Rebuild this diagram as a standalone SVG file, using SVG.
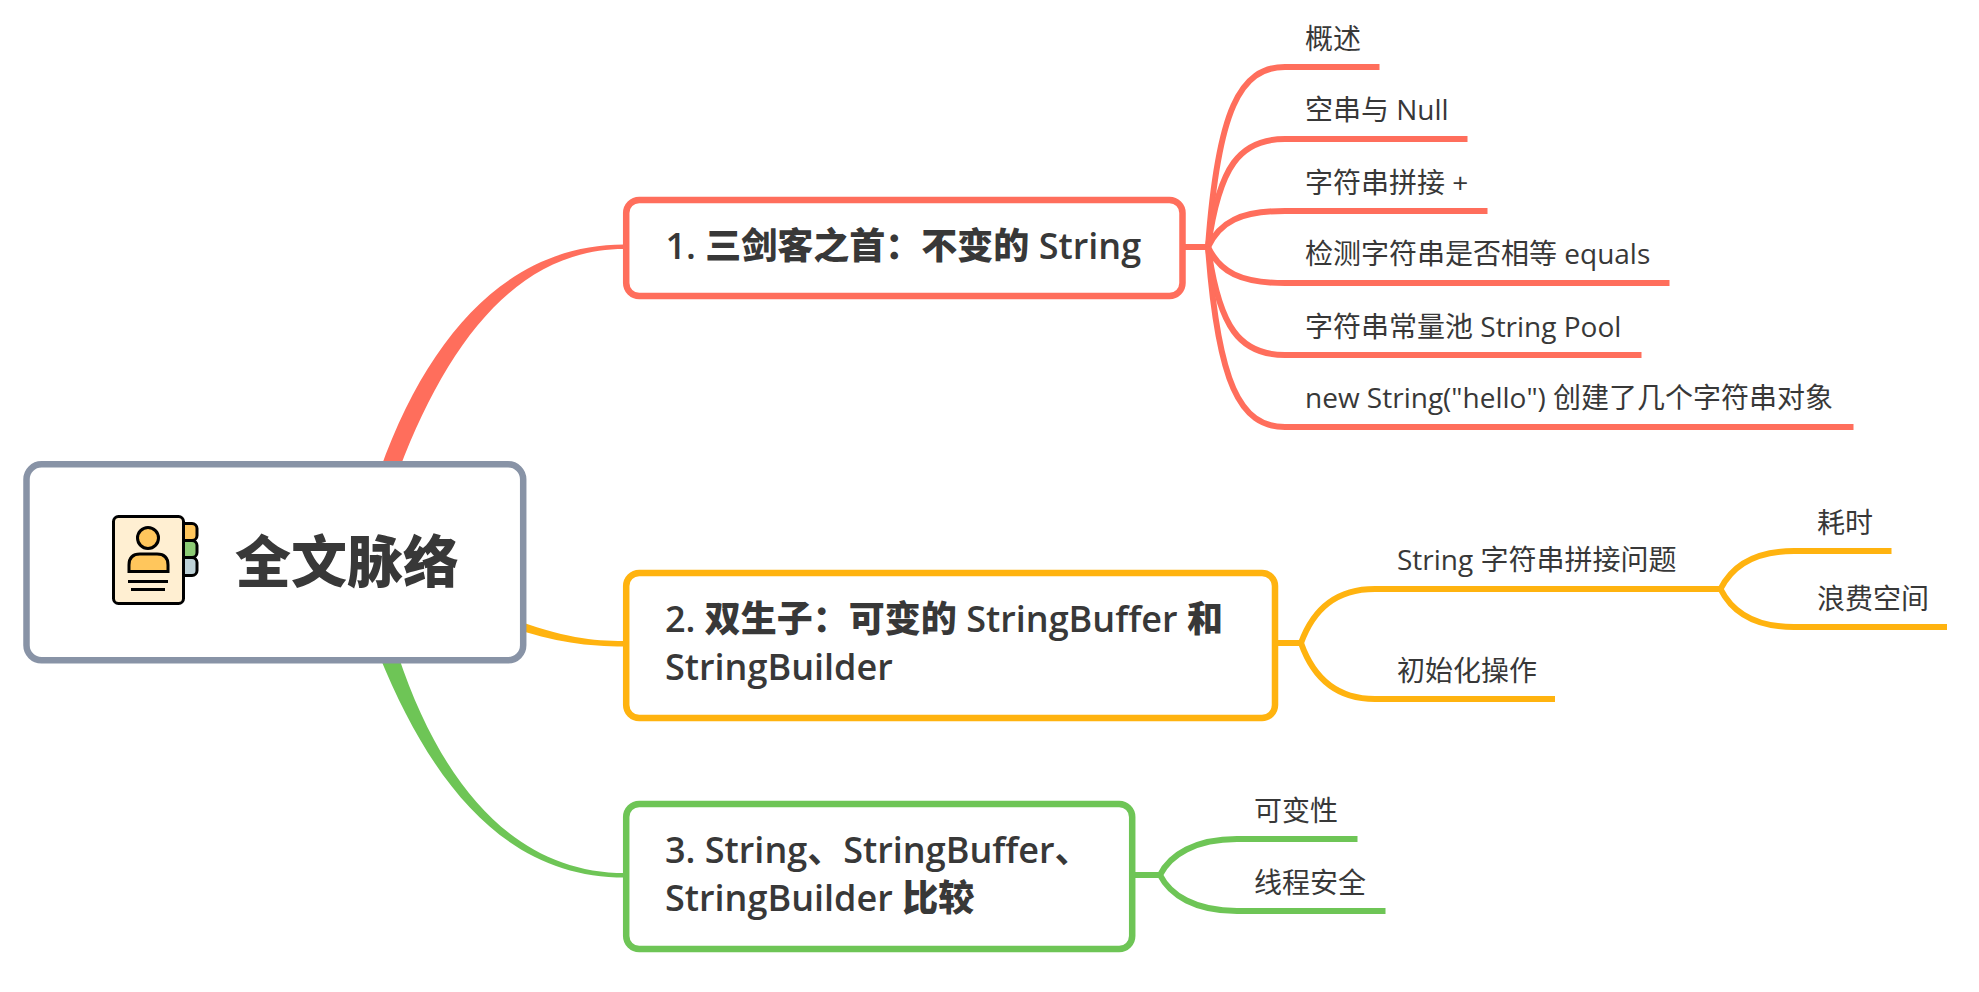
<svg xmlns="http://www.w3.org/2000/svg" width="1979" height="992" viewBox="0 0 1979 992">
<style>
text{font-family:"Open Sans","Noto Sans CJK SC",sans-serif;fill:#383838}
.t{font-size:28px}
.m{font-size:36px;font-weight:600}
.r{font-size:56px;font-weight:900}
.b{font-weight:900}
.box{fill:#fff;stroke-width:6.500}
.l{fill:none;stroke-width:6}
.red{stroke:#ff6e5c}.yel{stroke:#ffb30f}.grn{stroke:#6ec556}
.ic{stroke:#000;stroke-width:3}
</style>
<rect width="1979" height="992" fill="#fff"/>
<g id="connectors">
<path d="M380,470C430,330 512,244.500 624,244.500L624,249C520,249 449,338 399,470Z" fill="#ff6e5c"/>
<path d="M495,612C560,638 590,641 624,641L624,646.500C585,646.500 550,642 495,622Z" fill="#ffb30f"/>
<path d="M379,655C436,795 512,877.500 625,877.500L625,873C518,873 443,790 398,655Z" fill="#6ec556"/>
<g class="l red">
<path d="M1185,247H1208"/>
<path d="M1208,247C1218,110 1240,67 1285,67H1379.500"/>
<path d="M1208,247C1219,166 1240,139 1285,139H1467.500"/>
<path d="M1208,247C1220,222 1240,211 1285,211H1487.500"/>
<path d="M1208,247C1220,272 1240,283 1285,283H1669.500"/>
<path d="M1208,247C1219,328 1240,355 1285,355H1641.500"/>
<path d="M1208,247C1218,384 1240,427 1285,427H1853.500"/>
</g>
<g class="l yel">
<path d="M1277,643H1301"/>
<path d="M1301,643C1313,610 1335,589 1375,589H1720.500"/>
<path d="M1301,643C1313,677 1335,699 1375,699H1555"/>
<path d="M1720.500,589C1732,566 1755,551 1794,551H1891.500"/>
<path d="M1720.500,589C1732,612 1755,627 1794,627H1947"/>
</g>
<g class="l grn">
<path d="M1134,875H1160"/>
<path d="M1160,875C1170,855 1195,839 1237,839H1357.500"/>
<path d="M1160,875C1170,895 1195,911 1237,911H1385.500"/>
</g>
</g>
<g id="root">
<rect class="box" x="26.500" y="464.300" width="496.700" height="196" rx="15" stroke="#8893a6"/>
<g class="ic">
<rect x="176" y="523.500" width="21" height="17" rx="5" fill="#ffc65c"/>
<rect x="176" y="540.500" width="21" height="17" rx="5" fill="#8ccb74"/>
<rect x="176" y="557.500" width="21" height="18" rx="5" fill="#bdd1d6"/>
<rect x="113.500" y="516.500" width="70" height="87" rx="5" fill="#ffefd2"/>
<ellipse cx="148" cy="538" rx="10.500" ry="10.500" fill="#ffc65c"/>
<path d="M129,571.500V565Q129,554 140,554H157Q168,554 168,565V571.500Z" fill="#ffc65c"/>
<path d="M128,581.500H168M131,589.500H165" fill="none"/>
</g>
<text class="r" x="235" y="582">全文脉络</text>
</g>
<g id="node1">
<rect class="box red" x="626.200" y="200" width="556.300" height="96" rx="13"/>
<text class="m" x="665.500" y="259">1. <tspan class="b">三剑客之首：不变的</tspan> String</text>
</g>
<g id="node2">
<rect class="box yel" x="626.200" y="573" width="648.800" height="145" rx="13"/>
<text class="m" x="665" y="631.500">2. <tspan class="b">双生子：可变的</tspan> StringBuffer <tspan class="b">和</tspan></text>
<text class="m" x="665" y="680">StringBuilder</text>
</g>
<g id="node3">
<rect class="box grn" x="626.200" y="804" width="506" height="145" rx="13"/>
<text class="m" x="665" y="863">3. String、StringBuffer、</text>
<text class="m" x="665" y="911">StringBuilder <tspan class="b">比较</tspan></text>
</g>
<g id="n1a"><text class="t" x="1305" y="49">概述</text></g>
<g id="n1b"><text class="t" x="1305" y="120">空串与 Null</text></g>
<g id="n1c"><text class="t" x="1305" y="193">字符串拼接 +</text></g>
<g id="n1d"><text class="t" x="1305" y="264">检测字符串是否相等 equals</text></g>
<g id="n1e"><text class="t" x="1305" y="336.500">字符串常量池 String Pool</text></g>
<g id="n1f"><text class="t" x="1305" y="408">new String("hello") 创建了几个字符串对象</text></g>
<g id="n2a"><text class="t" x="1397" y="570">String 字符串拼接问题</text></g>
<g id="n2b"><text class="t" x="1397" y="681">初始化操作</text></g>
<g id="n2a1"><text class="t" x="1817" y="533">耗时</text></g>
<g id="n2a2"><text class="t" x="1817" y="609">浪费空间</text></g>
<g id="n3a"><text class="t" x="1254" y="821">可变性</text></g>
<g id="n3b"><text class="t" x="1254" y="893">线程安全</text></g>
</svg>
